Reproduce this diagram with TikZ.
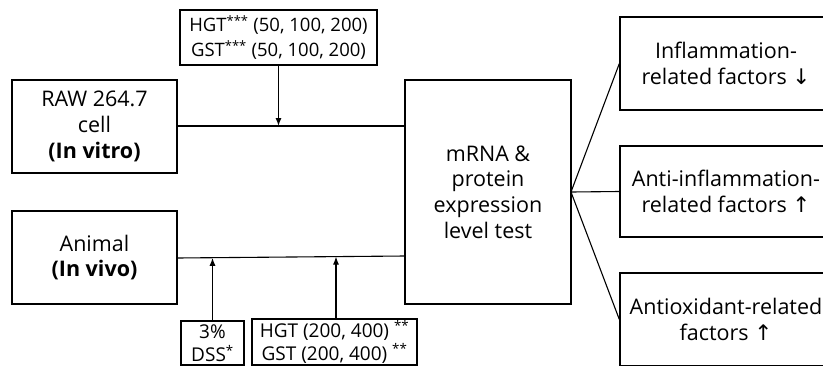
\documentclass[tikz,border=0pt]{standalone}
\usepackage{fontspec}
\setmainfont{Open Sans}
\newfontfamily\arrowfont{DejaVu Sans}
\usetikzlibrary{arrows.meta}
\begin{document}
\begin{tikzpicture}[x=1pt,y=-1pt,
  box/.style={draw,line width=1.3pt,inner sep=0pt,align=center,font=\fontsize{21.5}{25.7}\selectfont},
  small/.style={box,font=\fontsize{18.5}{25}\selectfont},
  bot/.style={box,font=\fontsize{19}{23}\selectfont},
  conn/.style={line width=1.1pt},
  arr/.style={conn,-{Latex[length=8pt,width=6pt]}}]
\useasboundingbox (0,0) rectangle (823,365);
\fill[white] (0,0) rectangle (823,365);
\begin{scope}
\clip (0,0) rectangle (823,365);
\node[small,minimum width=197pt,minimum height=55pt] (top) at (278.5,37.5) {HGT\textsuperscript{***} (50, 100, 200)\\GST\textsuperscript{***} (50, 100, 200)};
\node[box,minimum width=165pt,minimum height=93pt] (raw) at (94.5,126.5) {RAW 264.7\\cell\\\textbf{(In vitro)}};
\node[box,minimum width=165pt,minimum height=93pt] (animal) at (94.5,257.5) {Animal\\\textbf{(In vivo)}};
\node[box,minimum width=166pt,minimum height=224pt] (mrna) at (488,192) {mRNA \&\\protein\\expression\\level test};
\node[box,minimum width=212pt,minimum height=93pt] (r1) at (726,63.5) {Inflammation-\\related factors {\arrowfont ↓}};
\node[box,minimum width=212pt,minimum height=91pt] (r2) at (726,191.5) {Anti-inflammation-\\related factors {\arrowfont ↑}};
\node[box,minimum width=212pt,minimum height=93pt] (r3) at (726,319.5) {Antioxidant-related\\factors {\arrowfont ↑}};
\node[bot,minimum width=63pt,minimum height=44pt] (dss) at (212.5,343) {3\%\\DSS\textsuperscript{*}};
\node[bot,minimum width=165pt,minimum height=46pt] (hgt) at (334.5,342) {HGT (200, 400) \textsuperscript{**}\\GST (200, 400) \textsuperscript{**}};
\coordinate (j1) at (278.5,126);
\coordinate (al) at (177,258);
\coordinate (ar) at (405,256);
\coordinate (j2) at (212.5,257.8);
\coordinate (j3) at (336,256.6);
\draw[conn] (raw.east |- j1) -- (mrna.west |- j1);
\draw[arr] (top.south) -- (j1);
\draw[conn] (al) -- (ar);
\draw[arr] (dss.north) -- (j2);
\draw[arr] (hgt.north -| j3) -- (j3);
\coordinate (fan) at (571,192);
\draw[conn] (fan) -- (r1.west);
\draw[conn] (fan) -- (r2.west);
\draw[conn] (fan) -- (r3.west);
\end{scope}
\end{tikzpicture}
\end{document}
